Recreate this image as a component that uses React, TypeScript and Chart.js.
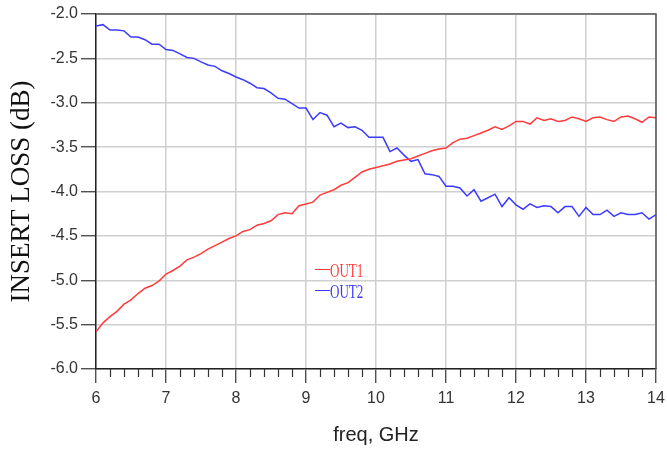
import React, { useEffect, useRef } from "react";
import { Chart, registerables } from "chart.js";

Chart.register(...registerables);

const freqGHz = [
  6.0, 6.1, 6.2, 6.3, 6.4, 6.5, 6.6, 6.7, 6.8, 6.9,
  7.0, 7.1, 7.2, 7.3, 7.4, 7.5, 7.6, 7.7, 7.8, 7.9,
  8.0, 8.1, 8.2, 8.3, 8.4, 8.5, 8.6, 8.7, 8.8, 8.9,
  9.0, 9.1, 9.2, 9.3, 9.4, 9.5, 9.6, 9.7, 9.8, 9.9,
  10.0, 10.1, 10.2, 10.3, 10.4, 10.5, 10.6, 10.7, 10.8, 10.9,
  11.0, 11.1, 11.2, 11.3, 11.4, 11.5, 11.6, 11.7, 11.8, 11.9,
  12.0, 12.1, 12.2, 12.3, 12.4, 12.5, 12.6, 12.7, 12.8, 12.9,
  13.0, 13.1, 13.2, 13.3, 13.4, 13.5, 13.6, 13.7, 13.8, 13.9,
  14.0,
];

const out1 = [
  -5.58, -5.48, -5.41, -5.35, -5.27, -5.22, -5.15, -5.09, -5.06, -5.01,
  -4.93, -4.89, -4.84, -4.77, -4.74, -4.70, -4.65, -4.61, -4.57, -4.53,
  -4.50, -4.45, -4.43, -4.38, -4.36, -4.33, -4.26, -4.24, -4.25, -4.16,
  -4.14, -4.12, -4.04, -4.01, -3.98, -3.93, -3.90, -3.84, -3.78, -3.75,
  -3.73, -3.71, -3.69, -3.66, -3.645, -3.63, -3.60, -3.57, -3.54, -3.52,
  -3.51, -3.45, -3.41, -3.40, -3.37, -3.34, -3.31, -3.27, -3.30, -3.26,
  -3.21, -3.21, -3.24, -3.17, -3.20, -3.18, -3.21, -3.20, -3.16, -3.18,
  -3.21, -3.17, -3.16, -3.19, -3.21, -3.16, -3.15, -3.18, -3.22, -3.16,
  -3.17,
];

const out2 = [
  -2.135, -2.12, -2.18, -2.18, -2.19, -2.26, -2.26, -2.29, -2.34, -2.34,
  -2.40, -2.41, -2.45, -2.49, -2.50, -2.54, -2.575, -2.59, -2.64, -2.67,
  -2.71, -2.74, -2.78, -2.83, -2.84, -2.89, -2.95, -2.96, -3.01, -3.06,
  -3.06, -3.19, -3.11, -3.14, -3.27, -3.23, -3.28, -3.27, -3.31, -3.39,
  -3.39, -3.39, -3.55, -3.51, -3.59, -3.66, -3.64, -3.80, -3.81, -3.83,
  -3.94, -3.94, -3.96, -4.05, -3.98, -4.11, -4.07, -4.03, -4.17, -4.07,
  -4.15, -4.20, -4.14, -4.18, -4.16, -4.17, -4.24, -4.17, -4.17, -4.28,
  -4.18, -4.26, -4.26, -4.21, -4.28, -4.24, -4.26, -4.26, -4.24, -4.31,
  -4.26,
];

const seriesNames = ["OUT1", "OUT2"];
const seriesColors = ["#ff3b3b", "#3b3bff"];
const xTitle = "freq, GHz";
const yTitle = "INSERT LOSS (dB)";

const frameAndMinorTicks = {
  id: "frameAndMinorTicks",
  afterDraw(chart: any) {
    const { ctx, chartArea } = chart;
    const xs = chart.scales.x;
    ctx.save();
    // top & right frame
    ctx.strokeStyle = "#555";
    ctx.lineWidth = 1.5;
    ctx.beginPath();
    ctx.moveTo(chartArea.left, chartArea.top);
    ctx.lineTo(chartArea.right, chartArea.top);
    ctx.lineTo(chartArea.right, chartArea.bottom);
    ctx.stroke();
    // minor ticks on x axis
    ctx.strokeStyle = "#333";
    ctx.lineWidth = 1.2;
    for (let i = 0; i <= 40; i++) {
      if (i % 5 === 0) continue;
      const v = xs.min + i * 0.2;
      const px = Math.round(xs.getPixelForValue(v)) + 0.5;
      ctx.beginPath();
      ctx.moveTo(px, chartArea.bottom);
      ctx.lineTo(px, chartArea.bottom + 8);
      ctx.stroke();
    }
    // legend
    const lx = chartArea.left + 219;
    const rows = [chartArea.top + 255, chartArea.top + 276];
    seriesNames.forEach((name, i) => {
      const y = rows[i];
      ctx.strokeStyle = seriesColors[i];
      ctx.lineWidth = 1;
      ctx.beginPath();
      ctx.moveTo(lx, y + 0.5);
      ctx.lineTo(lx + 15, y + 0.5);
      ctx.stroke();
      ctx.save();
      ctx.translate(lx + 15, y + 7.5);
      ctx.scale(0.67, 1);
      ctx.fillStyle = seriesColors[i];
      ctx.font = '19.5px "Liberation Serif", serif';
      ctx.textBaseline = "alphabetic";
      ctx.fillText(name, 0, 0);
      ctx.restore();
    });
    ctx.restore();
  },
};

export default function App() {
  const ref = useRef<HTMLCanvasElement | null>(null);

  useEffect(() => {
    if (!ref.current) return;
    const chart = new Chart(ref.current, {
      type: "line",
      data: {
        datasets: [
          {
            label: seriesNames[0],
            data: freqGHz.map((f, i) => ({ x: f, y: out1[i] })),
            borderColor: seriesColors[0],
            borderWidth: 1.5,
            pointRadius: 0,
            tension: 0,
          },
          {
            label: seriesNames[1],
            data: freqGHz.map((f, i) => ({ x: f, y: out2[i] })),
            borderColor: seriesColors[1],
            borderWidth: 1.5,
            pointRadius: 0,
            tension: 0,
          },
        ],
      },
      options: {
        animation: false,
        responsive: false,
        maintainAspectRatio: false,
        layout: { padding: { top: 14, right: 11, left: 0, bottom: 0 } },
        plugins: { legend: { display: false }, tooltip: { enabled: false } },
        scales: {
          x: {
            type: "linear",
            min: 6,
            max: 14,
            afterFit: (s: any) => {
              s.height = 83;
              s.paddingLeft = 0;
              s.paddingRight = 0;
            },
            ticks: {
              stepSize: 1,
              padding: 6,
              color: "#333",
              font: { family: '"Liberation Sans", Arial, sans-serif', size: 16 },
              maxRotation: 0,
            },
            grid: {
              color: "#cfcfcf",
              lineWidth: 1.5,
              tickColor: "#333",
              tickLength: 14,
              tickWidth: 1.2,
            },
            border: { display: true, color: "#222", width: 1.5 },
            title: {
              display: true,
              text: xTitle,
              color: "#222",
              font: { family: '"Liberation Sans", Arial, sans-serif', size: 20 },
              padding: { top: 0, bottom: 5 },
            },
          },
          y: {
            min: -6,
            max: -2,
            afterFit: (s: any) => {
              s.width = 96;
              s.paddingTop = 0;
              s.paddingBottom = 0;
            },
            ticks: {
              stepSize: 0.5,
              padding: 3,
              color: "#333",
              font: { family: '"Liberation Sans", Arial, sans-serif', size: 16 },
              callback: (v: any) => Number(v).toFixed(1),
            },
            grid: {
              color: "#cfcfcf",
              lineWidth: 1.5,
              tickColor: "#333",
              tickLength: 15,
              tickWidth: 1.2,
            },
            border: { display: true, color: "#222", width: 1.5 },
            title: {
              display: true,
              text: yTitle,
              color: "#111",
              font: { family: '"Liberation Serif", "Times New Roman", serif', size: 27 },
              padding: { top: 6, bottom: 0 },
            },
          },
        },
      },
      plugins: [frameAndMinorTicks],
    });
    return () => chart.destroy();
  }, []);

  return (
    <div style={{ position: "fixed", left: 0, top: 0, width: 667, height: 452, background: "#fff" }}>
      <canvas ref={ref} width={667} height={452} style={{ display: "block" }} />
    </div>
  );
}
